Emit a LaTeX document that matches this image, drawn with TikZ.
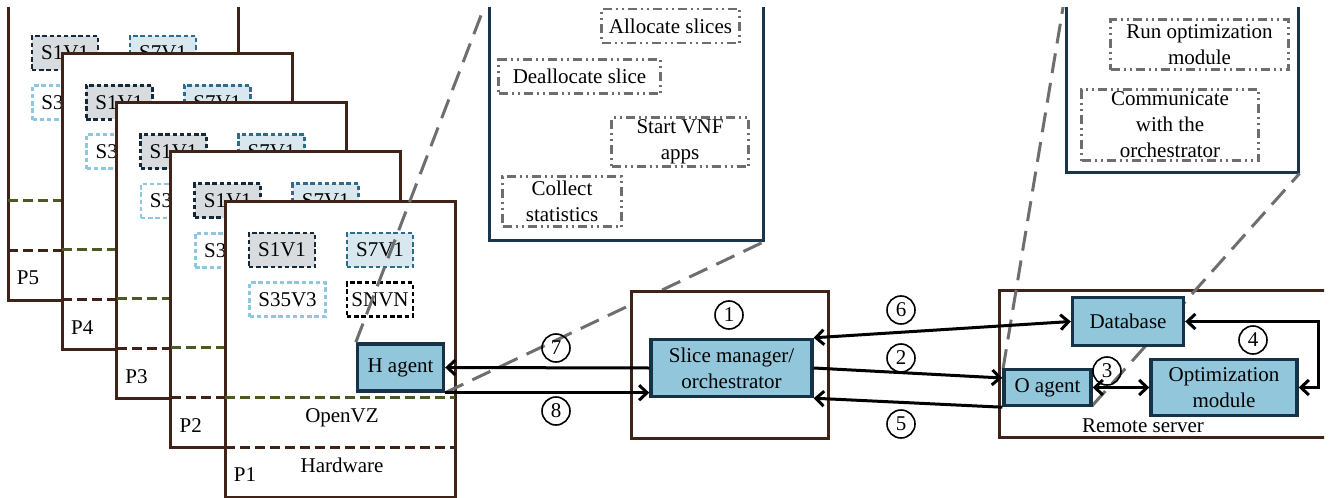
\documentclass[tikz,border=0pt]{standalone}
\usepackage{fontspec}
\setmainfont{Liberation Serif}
\usetikzlibrary{arrows.meta}

\definecolor{platebrown}{HTML}{3F2218}
\definecolor{layergreen}{HTML}{4A5A22}
\definecolor{agentblue}{HTML}{92C6DA}
\definecolor{agentedge}{HTML}{163246}
\definecolor{calloutedge}{HTML}{1B364A}
\definecolor{slotnavy}{HTML}{14293A}
\definecolor{slotteal}{HTML}{2D6C8C}
\definecolor{slotsky}{HTML}{8CC8E2}
\definecolor{slotgray}{HTML}{D8DCDF}
\definecolor{slotpale}{HTML}{D9E7EF}
\definecolor{zoomgray}{HTML}{6E6E6E}

\tikzset{
  plate/.style={draw=platebrown,line width=1.5pt,fill=white},
  slot/.style={line width=1.3pt,dash pattern=on 2.2pt off 1.4pt,minimum width=33pt,minimum height=17pt,inner sep=0pt},
  agent/.style={draw=agentedge,fill=agentblue,line width=1.7pt,inner sep=0pt,align=center},
  callout/.style={draw=calloutedge,line width=1.5pt,fill=white},
  task/.style={draw=zoomgray,line width=1.3pt,dash pattern=on 4.5pt off 2pt on 1pt off 2pt on 1pt off 2pt,inner sep=0pt,align=center},
  zoomline/.style={zoomgray,line width=1.5pt,dash pattern=on 10pt off 5pt},
  num/.style={circle,draw,line width=0.8pt,minimum size=14pt,inner sep=0pt},
  link/.style={line width=1.5pt},
  >={Straight Barb[length=4pt,width=7.5pt]}
}

\begin{document}
\begin{tikzpicture}[x=0.5pt,y=-0.5pt,font=\fontsize{10.5}{13}\selectfont]
        % Frame
        \useasboundingbox (0,0) rectangle (1329,498);
        \clip (0,7) rectangle (1324,498);

        % Physical machines P5 ... P1
        \foreach \k in {5,4,3,2,1} {
            \begin{scope}[shift={({225-54.25*(\k-1)},{201-49.25*(\k-1)})}]
                \draw[plate] (0,0) rectangle (230,296);
                \node[slot,draw=slotnavy,fill=slotgray] (s1v1-\k) at (57,49) {S1V1};
                \node[slot,draw=slotteal,fill=slotpale] (s7v1-\k) at (155,49) {S7V1};
                \node[slot,draw=slotsky,fill=white,minimum width=38pt] (s35v3-\k) at (62.5,98.5) {S35V3};
                \draw[layergreen,line width=1.5pt,dash pattern=on 5pt off 2.5pt] (0,196) -- (230,196);
                \draw[platebrown,line width=1.5pt,dash pattern=on 5pt off 2.5pt] (0,246) -- (230,246);
                \node (plabel-\k) at (20,274) {P\k};
                % only the front machine shows the rest
                \ifnum\k=1
                    \node[slot,draw=black,fill=white] (snvn) at (155,98.5) {SNVN};
                    \node (openvz) at (117,217) {OpenVZ};
                    \node (hw) at (117,264) {Hardware};
                \fi
            \end{scope}
        }
        \node[agent,minimum width=43pt,minimum height=23.5pt] (hagent) at (400.5,367.5) {H agent};

        % Zoomed views
        \node[callout,minimum width=137pt,minimum height=120pt] (tasks) at (626,120) {};
        \node[task,minimum width=69pt,minimum height=17pt] (alloc) at (670.5,26) {Allocate slices};
        \node[task,minimum width=81pt,minimum height=17pt] (dealloc) at (579.5,76.5) {Deallocate slice};
        \node[task,minimum width=68.5pt,minimum height=24.5pt] (startvnf) at (680,142) {Start VNF\\apps};
        \node[task,minimum width=59.5pt,minimum height=25pt] (collect) at (562,201.5) {Collect\\statistics};
        \draw[zoomline] (hagent.north west) -- (tasks.north west);
        \draw[zoomline] (hagent.south east) -- (tasks.south east);

        \node[callout,minimum width=116pt,minimum height=86pt] (otasks) at (1182,86) {};
        \node[task,minimum width=89pt,minimum height=25pt] (runopt) at (1199.5,44.5) {Run optimization\\module};
        \node[task,minimum width=88.5pt,minimum height=35.5pt] (comm) at (1170,125) {Communicate\\with the\\orchestrator};

        % Slice manager
        \draw[plate] (631,291) rectangle (828,438);
        \node[agent,minimum width=80.5pt,minimum height=28.5pt] (sm) at (731.5,368) {Slice manager/\\orchestrator};

        % Remote server
        \draw[platebrown,line width=1.5pt] (999,290) rectangle (1340,437);
        \node (remote) at (1143,426) {Remote server};
        \coordinate (oagent-nw) at (1003,369);
        \coordinate (oagent-se) at (1092,406);
        \draw[zoomline] (oagent-nw) -- (otasks.north west);
        \draw[zoomline] (oagent-se) -- (otasks.south east);
        \node[agent,minimum width=55.5pt,minimum height=24pt] (db) at (1128,321.5) {Database};
        \node[agent,minimum width=43.5pt,minimum height=18pt] (oagent) at (1047.5,387.5) {O agent};
        \node[agent,minimum width=73pt,minimum height=28pt] (opt) at (1224,387.5) {Optimization\\module};

        % Messages
        \draw[link,->] (sm.west) -- (hagent.east);
        \draw[link,->] (hagent.south east) -- (hagent.south east -| sm.west);
        \draw[link,<->] (sm.north east) -- (db.west);
        \draw[link,->] (sm.east) -- ([yshift=4.75pt]oagent.west);
        \draw[link,->] (oagent.south west) -- (sm.south east);
        \draw[link,<->] (oagent.east) -- (opt.west);
        \draw[link,<->] (opt.east) -- ++(20,0) |- (db.east);

        % Step numbers
        \node[num] (n1) at (729,315) {1};
        \node[num] (n2) at (901,358) {2};
        \node[num] (n3) at (1107,371) {3};
        \node[num] (n4) at (1253,340) {4};
        \node[num] (n5) at (901,424) {5};
        \node[num] (n6) at (901,310) {6};
        \node[num] (n7) at (556,348) {7};
        \node[num] (n8) at (556,411) {8};
    \end{tikzpicture}
\end{document}
